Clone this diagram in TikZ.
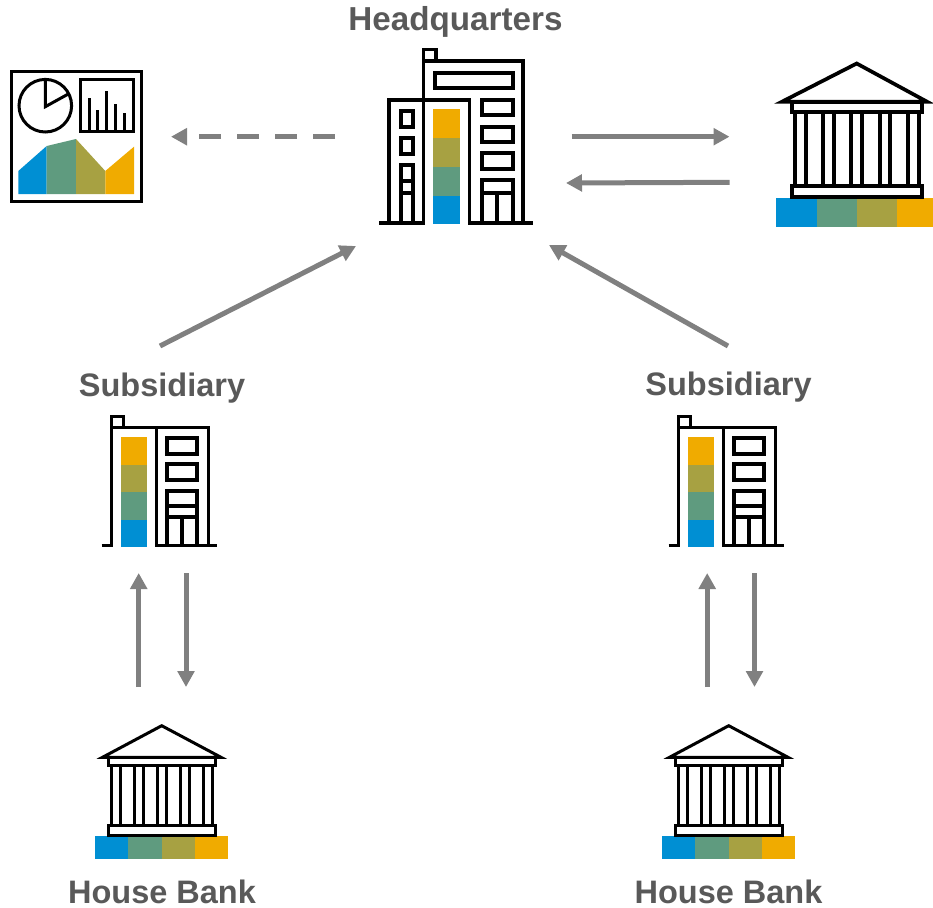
\documentclass[tikz,border=0pt]{standalone}
\usepackage{fontspec}
\setmainfont{Liberation Sans}
\usetikzlibrary{arrows.meta}
\definecolor{cblue}{HTML}{008FD3}
\definecolor{cgreen}{HTML}{5F9B7F}
\definecolor{colive}{HTML}{A7A142}
\definecolor{cyellow}{HTML}{F0AB00}
\definecolor{lab}{HTML}{595959}
\definecolor{arr}{HTML}{808080}
\tikzset{
  icon/.style={draw=black,line width=3.7pt,line join=miter},
  thin icon/.style={draw=black,line width=3pt,line join=miter},
  link/.style={draw=arr,line width=5pt,-{Triangle[length=16pt,width=16.5pt]}},
  dashlink/.style={link,dash pattern=on 22pt off 16pt},
  lbl/.style={text=lab,font=\fontsize{32.5}{36}\selectfont\bfseries,inner sep=0pt,anchor=base},
}
\begin{document}
\begin{tikzpicture}[x=1pt,y=-1pt]
\useasboundingbox (0,0) rectangle (933,907);
% labels
\node[lbl,font=\fontsize{33.2}{36}\selectfont\bfseries] (hq) at (455.5,30.5) {Headquarters};
\node[lbl] (s1) at (162,396) {Subsidiary};
\node[lbl] (s2) at (728.5,395) {Subsidiary};
\node[lbl] (b1) at (162,903.5) {House Bank};
\node[lbl] (b2) at (728.5,903.5) {House Bank};
% HQ
\fill[cyellow] (433,109.3) rectangle (460,138.3);
\fill[colive] (433,138.3) rectangle (460,167);
\fill[cgreen] (433,167) rectangle (460,195.7);
\fill[cblue] (433,195.7) rectangle (460,224.3);
\draw[icon] (423.5,61) -- (423.5,49.5) -- (436,49.5) -- (436,61);
\draw[icon] (423.5,222.7) -- (423.5,61) -- (523,61) -- (523,222.7);
\draw[icon] (435,72.7) rectangle (512.7,88);
\draw[icon] (389,222.7) -- (389,100) -- (469.5,100) -- (469.5,222.7);
\draw[icon] (481.7,100) rectangle (512.7,115);
\draw[icon] (481.7,126.7) rectangle (512.7,142);
\draw[icon] (481.7,153.3) rectangle (512.7,168.7);
\draw[icon] (481.7,222.7) -- (481.7,180) -- (512.7,180) -- (512.7,222.7);
\draw[icon] (481.7,192.7) -- (512.7,192.7);
\draw[icon] (497,192.7) -- (497,222.7);
\draw[icon] (400.7,111) rectangle (412.7,126.7);
\draw[icon] (400.7,138.3) rectangle (412.7,154);
\draw[icon] (400.7,222.7) -- (400.7,165) -- (412.7,165) -- (412.7,222.7);
\draw[icon] (400.7,180.7) -- (412.7,180.7);
\draw[icon] (400.7,192.7) -- (412.7,192.7);
\draw[icon] (379,222.7) -- (425,222.7);
\draw[icon] (468,222.7) -- (533,222.7);
% report
\draw[thin icon] (11,71) rectangle (141,201);
\draw[thin icon] (45.3,105.7) circle (26.3);
\draw[thin icon] (45.3,79.4) -- (45.3,106.7) -- (68.3,94);
\draw[thin icon] (80.5,79.5) rectangle (133,131.5);
\draw[thin icon] (89,131) -- (89,98.3);
\draw[thin icon] (97.7,131) -- (97.7,110);
\draw[thin icon] (106.7,131) -- (106.7,90.7);
\draw[thin icon] (115,131) -- (115,104.3);
\draw[thin icon] (124,131) -- (124,112.7);
\fill[cblue] (18.3,194) -- (18.3,171) -- (46.7,146) -- (46.7,194) -- cycle;
\fill[cgreen] (46.7,194) -- (46.7,146) -- (76,139) -- (76,194) -- cycle;
\fill[colive] (76,194) -- (76,139) -- (105.3,171) -- (105.3,194) -- cycle;
\fill[cyellow] (105.3,194) -- (105.3,171) -- (134,146.7) -- (134,194) -- cycle;
% large bank
\fill[cblue] (775.7,198.3) rectangle (816.7,227);
\fill[cgreen] (816.7,198.3) rectangle (856.7,227);
\fill[colive] (856.7,198.3) rectangle (897,227);
\fill[cyellow] (897,198.3) rectangle (933,227);
\draw[icon] (782,101.7) -- (856.7,63.5) -- (927,101.7) -- cycle;
\draw[icon] (791.7,101.7) rectangle (922.3,112.3);
\draw[icon] (791.7,185.7) rectangle (922.3,197);
\foreach \c in {76,108,160,192,244,276,329,361,414,446}
  \draw[icon] ({770+\c/3},112.3) -- ({770+\c/3},185.7);
% small banks and subsidiaries
\foreach \dx in {0,567}{
\begin{scope}[xshift=\dx pt]
\fill[cblue] (95,836) rectangle (128.3,859.3);
\fill[cgreen] (128.3,836) rectangle (161.7,859.3);
\fill[colive] (161.7,836) rectangle (195,859.3);
\fill[cyellow] (195,836) rectangle (228.3,859.3);
\draw[thin icon] (102.5,757.3) -- (161.7,725.7) -- (221,757.3) -- cycle;
\draw[thin icon] (108.3,757.3) rectangle (215,765.7);
\draw[thin icon] (108.3,825) rectangle (215,835);
\foreach \c in {79,105,148,174,217,243,287,313,356,382}
  \draw[thin icon] ({85+\c/3},765.7) -- ({85+\c/3},825);
\fill[cyellow] (120.7,437.3) rectangle (147,465);
\fill[colive] (120.7,465) rectangle (147,492.3);
\fill[cgreen] (120.7,492.3) rectangle (147,519.7);
\fill[cblue] (120.7,519.7) rectangle (147,547);
\draw[thin icon] (111.5,427.3) -- (111.5,416.5) -- (123,416.5) -- (123,427.3);
\draw[thin icon] (111.5,545) -- (111.5,427.3) -- (208.3,427.3) -- (208.3,545);
\draw[thin icon] (156,427.3) -- (156,545);
\draw[icon] (167.3,438.3) rectangle (197.3,454);
\draw[icon] (167.3,464) rectangle (197.3,480);
\draw[icon] (167.3,545) -- (167.3,490.7) -- (197.3,490.7) -- (197.3,545);
\draw[icon] (167.3,505.7) -- (197.3,505.7);
\draw[icon] (167.3,517.3) -- (197.3,517.3);
\draw[icon] (182.3,517.3) -- (182.3,545);
\draw[thin icon] (101.7,545) -- (113,545);
\draw[thin icon] (155,545) -- (216.7,545);
\end{scope}}
% connectors
\coordinate (hqL) at (335,136.7);
\coordinate (repR) at (171,136.7);
\coordinate (hqRa) at (571.7,136.7);
\coordinate (bkLa) at (729.5,136.7);
\coordinate (bkLb) at (729.5,182.3);
\coordinate (hqRb) at (566,183);
\coordinate (s1t) at (160,346);
\coordinate (hq1) at (356,246);
\coordinate (s2t) at (728,346);
\coordinate (hq2) at (549,245);
\draw[dashlink] (hqL) -- (repR);
\draw[link] (hqRa) -- (bkLa);
\draw[link] (bkLb) -- (hqRb);
\draw[link] (s1t) -- (hq1);
\draw[link] (s2t) -- (hq2);
\foreach \dx in {0,568.5}{
\begin{scope}[xshift=\dx pt]
\coordinate (u0) at (138.7,687);
\coordinate (u1) at (138.7,573);
\coordinate (d0) at (186,573);
\coordinate (d1) at (186,687);
\draw[link] (u0) -- (u1);
\draw[link] (d0) -- (d1);
\end{scope}}
\end{tikzpicture}
\end{document}
